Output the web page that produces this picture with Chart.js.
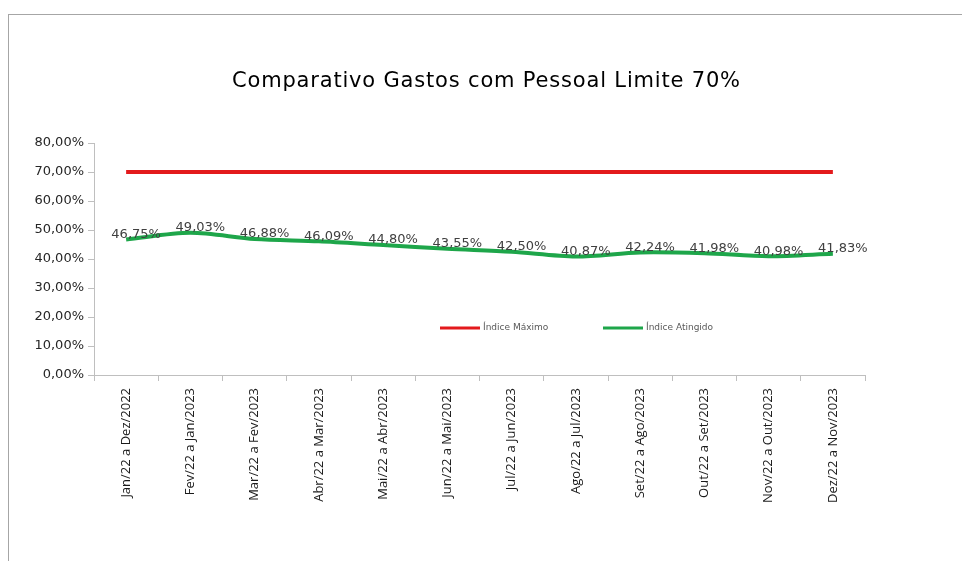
<!DOCTYPE html>
<html>
<head>
<meta charset="utf-8">
<script src="https://cdn.jsdelivr.net/npm/chart.js@4/dist/chart.umd.min.js"></script>
<style>
  html, body { margin: 0; padding: 0; background: #fff; overflow: hidden; }
  #wrap { position: relative; width: 962px; height: 561px; }
  #frame { position: absolute; left: 8px; top: 14px; width: 1000px; height: 600px; border: 1px solid #a6a6a6; box-sizing: border-box; }
  canvas { position: absolute; left: 0; top: 0; }
</style>
</head>
<body>
<div id="wrap">
  <div id="frame"></div>
  <canvas id="c" width="962" height="561"></canvas>
</div>
<script>
const categories = [
  "Jan/22 a Dez/2022", "Fev/22 a Jan/2023", "Mar/22 a Fev/2023", "Abr/22 a Mar/2023",
  "Mai/22 a Abr/2023", "Jun/22 a Mai/2023", "Jul/22 a Jun/2023", "Ago/22 a Jul/2023",
  "Set/22 a Ago/2023", "Out/22 a Set/2023", "Nov/22 a Out/2023", "Dez/22 a Nov/2023"
];
const indiceMaximo = [70, 70, 70, 70, 70, 70, 70, 70, 70, 70, 70, 70];
const indiceAtingido = [46.75, 49.03, 46.88, 46.09, 44.80, 43.55, 42.50, 40.87, 42.24, 41.98, 40.98, 41.83];
const seriesNames = ["Índice Máximo", "Índice Atingido"];
const titleText = "Comparativo Gastos com Pessoal Limite 70%";

const fmt = v => v.toFixed(2).replace('.', ',') + '%';

const titlePlugin = {
  id: 'titlePlugin',
  afterDraw(chart) {
    const ctx = chart.ctx;
    ctx.save();
    ctx.font = '21px "DejaVu Sans"';
    ctx.fillStyle = '#000';
    const target = 508;
    const w = ctx.measureText(titleText).width;
    const sp = Math.max(0, (target - w) / (titleText.length - 1));
    ctx.letterSpacing = sp.toFixed(2) + 'px';
    ctx.textAlign = 'left';
    ctx.textBaseline = 'middle';
    ctx.fillText(titleText, 486 - target / 2, 82);
    ctx.restore();
  }
};

const dataLabels = {
  id: 'dataLabels',
  afterDatasetsDraw(chart) {
    const ctx = chart.ctx;
    const meta = chart.getDatasetMeta(1);
    const ds = chart.data.datasets[1];
    ctx.save();
    ctx.font = '13px "DejaVu Sans"';
    ctx.fillStyle = '#404040';
    ctx.textAlign = 'center';
    ctx.textBaseline = 'middle';
    meta.data.forEach((pt, i) => {
      ctx.fillText(fmt(ds.data[i]), pt.x + 10, pt.y - 5);
    });
    ctx.restore();
  }
};

const innerLegend = {
  id: 'innerLegend',
  afterDraw(chart) {
    const ctx = chart.ctx;
    const a = chart.chartArea;
    const y = a.top + (a.bottom - a.top) * 0.797;
    const starts = [a.left + 346, a.left + 509];
    ctx.save();
    ctx.font = '9px "DejaVu Sans"';
    ctx.textBaseline = 'middle';
    ctx.textAlign = 'left';
    chart.data.datasets.forEach((ds, i) => {
      const x = starts[i];
      ctx.strokeStyle = ds.borderColor;
      ctx.lineWidth = 3;
      ctx.beginPath();
      ctx.moveTo(x, y);
      ctx.lineTo(x + 40, y);
      ctx.stroke();
      ctx.fillStyle = '#595959';
      ctx.fillText(ds.label, x + 43, y);
    });
    ctx.restore();
  }
};

new Chart(document.getElementById('c'), {
  type: 'line',
  data: {
    labels: categories,
    datasets: [
      { label: seriesNames[0], data: indiceMaximo, borderColor: '#e31a1c', borderWidth: 4, pointRadius: 0, tension: 0 },
      { label: seriesNames[1], data: indiceAtingido, borderColor: '#1ea64a', borderWidth: 4, pointRadius: 0, tension: 0.3 }
    ]
  },
  options: {
    responsive: false,
    animation: false,
    layout: { padding: { left: 0, right: 97, top: 143, bottom: 0 } },
    plugins: {
      legend: { display: false },
      tooltip: { enabled: false },
      title: { display: false }
    },
    scales: {
      x: {
        offset: true,
        grid: { display: true, offset: true, drawOnChartArea: false, drawTicks: true, tickLength: 6, color: '#bfbfbf' },
        border: { color: '#bfbfbf' },
        ticks: { minRotation: 90, maxRotation: 90, autoSkip: false, color: '#1a1a1a', font: { family: '"Open Sans"', size: 13 }, padding: 7 },
        afterFit(s) { s.height = 186; }
      },
      y: {
        min: 0, max: 80,
        ticks: { stepSize: 10, callback: v => fmt(v), color: '#262626', font: { family: '"DejaVu Sans"', size: 13 }, padding: 4 },
        grid: { display: true, drawOnChartArea: false, drawTicks: true, tickLength: 6, color: '#bfbfbf' },
        border: { color: '#bfbfbf' },
        afterFit(s) { s.width = 94; }
      }
    }
  },
  plugins: [dataLabels, innerLegend, titlePlugin]
});
</script>
</body>
</html>
